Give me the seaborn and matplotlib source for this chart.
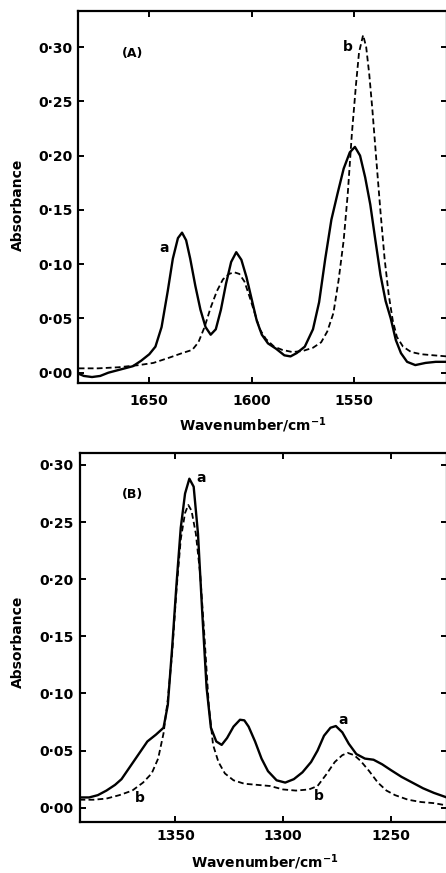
import matplotlib
matplotlib.use("Agg")
import matplotlib.pyplot as plt
import seaborn as sns
import pandas as pd

# ---------------- data ----------------
# Panel A, curve a (solid)
a_wn_A = [1684.5, 1682, 1678, 1674, 1670, 1664, 1658, 1654, 1650, 1647, 1644, 1641, 1638.5,
          1636, 1634, 1632, 1630, 1627.5, 1625, 1622.5, 1620, 1617.5, 1615, 1612.5, 1610,
          1607.5, 1605, 1602.5, 1600, 1597.5, 1595, 1592, 1588, 1584, 1581, 1578, 1574,
          1570, 1567, 1564, 1561, 1558, 1555, 1552, 1549.5, 1547, 1544.5, 1542, 1539.5,
          1537, 1534.5, 1532, 1529.5, 1527, 1524, 1520, 1515, 1510, 1504.5]
a_abs_A = [-0.001, -0.003, -0.004, -0.003, 0.000, 0.003, 0.006, 0.011, 0.017, 0.024, 0.042,
           0.075, 0.105, 0.124, 0.129, 0.122, 0.105, 0.080, 0.058, 0.042, 0.035, 0.040,
           0.058, 0.082, 0.102, 0.111, 0.104, 0.088, 0.068, 0.048, 0.035, 0.027, 0.022,
           0.016, 0.015, 0.018, 0.024, 0.040, 0.065, 0.105, 0.141, 0.165, 0.188, 0.203,
           0.208, 0.200, 0.180, 0.155, 0.122, 0.090, 0.066, 0.050, 0.030, 0.018, 0.010,
           0.007, 0.009, 0.010, 0.010]
# Panel A, curve b (dashed)
b_wn_A = [1684.5, 1675, 1665, 1655, 1648, 1640, 1634, 1629, 1626, 1623, 1620, 1617, 1614,
          1611, 1608.5, 1606, 1603.5, 1601, 1598.5, 1596, 1593, 1589, 1585, 1580, 1575,
          1570, 1566, 1563, 1560, 1557.5, 1555, 1553, 1551, 1549, 1547.5, 1545.5, 1544,
          1542.5, 1541, 1539, 1537, 1535, 1533, 1531, 1529, 1526, 1522, 1517, 1511, 1504.5]
b_abs_A = [0.004, 0.004, 0.005, 0.007, 0.009, 0.014, 0.018, 0.021, 0.028, 0.042, 0.060,
           0.075, 0.086, 0.091, 0.0925, 0.091, 0.084, 0.070, 0.055, 0.040, 0.031, 0.024,
           0.021, 0.019, 0.020, 0.023, 0.028, 0.038, 0.055, 0.085, 0.122, 0.165, 0.220,
           0.265, 0.295, 0.311, 0.300, 0.275, 0.243, 0.195, 0.148, 0.105, 0.072, 0.048,
           0.033, 0.024, 0.019, 0.017, 0.016, 0.015]

# Panel B, curve a (solid)
a_wn_B = [1394.5, 1390, 1386, 1382, 1378, 1375, 1371, 1367, 1363, 1359, 1355.5, 1353.5,
          1351.5, 1349.5, 1347.5, 1345.5, 1343.5, 1341.5, 1339.5, 1337.5, 1335.5, 1333.5,
          1331, 1328.5, 1326, 1323, 1320, 1318, 1316, 1313, 1310, 1307, 1303, 1299, 1295,
          1291, 1287, 1284, 1281, 1278, 1275.5, 1272.5, 1269.5, 1266, 1262, 1258, 1254,
          1250, 1245, 1240, 1235, 1230, 1224]
a_abs_B = [0.009, 0.009, 0.011, 0.015, 0.020, 0.025, 0.036, 0.047, 0.058, 0.064, 0.070,
           0.090, 0.140, 0.195, 0.245, 0.275, 0.288, 0.281, 0.240, 0.170, 0.105, 0.070,
           0.058, 0.055, 0.061, 0.071, 0.077, 0.0765, 0.071, 0.058, 0.043, 0.032, 0.024,
           0.022, 0.025, 0.031, 0.040, 0.050, 0.063, 0.070, 0.0715, 0.066, 0.056, 0.047,
           0.043, 0.042, 0.038, 0.033, 0.027, 0.022, 0.017, 0.013, 0.009]
# Panel B, curve b (dashed)
b_wn_B = [1394.5, 1388, 1382, 1376, 1370, 1365, 1361, 1358, 1355.5, 1353.5, 1351.5, 1349.5,
          1347.5, 1345.5, 1344, 1342.5, 1340.5, 1338.5, 1336.5, 1334.5, 1332.5, 1330, 1327,
          1323, 1318, 1312, 1306, 1300, 1294, 1288, 1284, 1280, 1276, 1272.5, 1270, 1267,
          1264, 1260, 1256, 1252, 1248, 1242, 1236, 1230, 1224]
b_abs_B = [0.007, 0.007, 0.008, 0.011, 0.015, 0.022, 0.030, 0.043, 0.065, 0.095, 0.135,
           0.190, 0.235, 0.258, 0.265, 0.260, 0.240, 0.205, 0.150, 0.090, 0.055, 0.040,
           0.030, 0.024, 0.021, 0.020, 0.019, 0.016, 0.015, 0.016, 0.019, 0.029, 0.040,
           0.046, 0.048, 0.046, 0.041, 0.032, 0.022, 0.015, 0.011, 0.007, 0.005, 0.004,
           0.002]

y_ticks = [0.00, 0.05, 0.10, 0.15, 0.20, 0.25, 0.30]
y_tick_labels = ["0\u00b700", "0\u00b705", "0\u00b710", "0\u00b715", "0\u00b720", "0\u00b725", "0\u00b730"]
x_ticks_A = [1650, 1600, 1550]
x_ticks_B = [1350, 1300, 1250]

# ---------------- style ----------------
sns.set_style("ticks")
plt.rcParams["font.family"] = ["DejaVu Sans"]
plt.rcParams["font.weight"] = "bold"
plt.rcParams["mathtext.default"] = "bf"
for k in ["text.color", "axes.edgecolor", "axes.labelcolor", "xtick.color", "ytick.color"]:
    plt.rcParams[k] = "black"

W, H = 446, 873
fig = plt.figure(figsize=(W / 100, H / 100), dpi=100)


def px_axes(left, top, right, bottom):
    return fig.add_axes([left / W, 1 - bottom / H, (right - left) / W, (bottom - top) / H])


def draw(ax, wa, ya, wb, yb, xlim, ylim, xticks, xpad):
    dfa = pd.DataFrame({"wn": wa, "abs": ya})
    dfb = pd.DataFrame({"wn": wb, "abs": yb})
    sns.lineplot(data=dfa, x="wn", y="abs", ax=ax, color="black", lw=1.7, sort=False)
    sns.lineplot(data=dfb, x="wn", y="abs", ax=ax, color="black", lw=1.3,
                 linestyle=(0, (3.2, 1.8)), sort=False)
    ax.set_xlim(*xlim)
    ax.set_ylim(*ylim)
    ax.set_xticks(xticks)
    ax.set_xticklabels([str(t) for t in xticks], fontsize=10, fontweight="bold")
    ax.set_yticks(y_ticks)
    ax.set_yticklabels(y_tick_labels, fontsize=10, fontweight="bold")
    ax.tick_params(axis="both", direction="in", top=True, right=True, length=4.5, width=1.4,
                   labelright=False, labeltop=False, colors="black")
    ax.tick_params(axis="x", pad=xpad)
    ax.tick_params(axis="y", pad=4)
    for s in ax.spines.values():
        s.set_linewidth(1.6)
        s.set_color("black")
    ax.set_xlabel("")
    ax.set_ylabel("")


# Panel A
axA = px_axes(78.3, 11, 447, 383)
draw(axA, a_wn_A, a_abs_A, b_wn_A, b_abs_A, (1684.7, 1504.5), (-0.0095, 0.3332), x_ticks_A, 8)
axA.text(1658.4, 0.294, "(A)", ha="center", va="center", fontsize=9, fontweight="bold")
axA.text(1553.0, 0.300, "b", ha="center", va="center", fontsize=10, fontweight="bold")
axA.text(1642.6, 0.1146, "a", ha="center", va="center", fontsize=10, fontweight="bold")

# Panel B
axB = px_axes(79.5, 453, 447, 822)
draw(axB, a_wn_B, a_abs_B, b_wn_B, b_abs_B, (1394.5, 1223.9), (-0.0125, 0.3105), x_ticks_B, 5)
axB.text(1369.8, 0.274, "(B)", ha="center", va="center", fontsize=9, fontweight="bold")
axB.text(1338.1, 0.289, "a", ha="center", va="center", fontsize=10, fontweight="bold")
axB.text(1366.4, 0.0088, "b", ha="center", va="center", fontsize=10, fontweight="bold")
axB.text(1272.0, 0.0768, "a", ha="center", va="center", fontsize=10, fontweight="bold")
axB.text(1283.6, 0.0105, "b", ha="center", va="center", fontsize=10, fontweight="bold")

# axis titles
xlab = r"Wavenumber/cm$^{\mathbf{-1}}$"
fig.text(252.6 / W, 1 - 425 / H, xlab, ha="center", va="center", fontsize=10, fontweight="bold")
fig.text(265 / W, 1 - 862 / H, xlab, ha="center", va="center", fontsize=10, fontweight="bold")
fig.text(18.3 / W, 1 - 205 / H, "Absorbance", rotation=90, ha="center", va="center",
         fontsize=10, fontweight="bold")
fig.text(18.3 / W, 1 - 641.7 / H, "Absorbance", rotation=90, ha="center", va="center",
         fontsize=10, fontweight="bold")

fig.savefig("out.png", dpi=100, facecolor="white")
